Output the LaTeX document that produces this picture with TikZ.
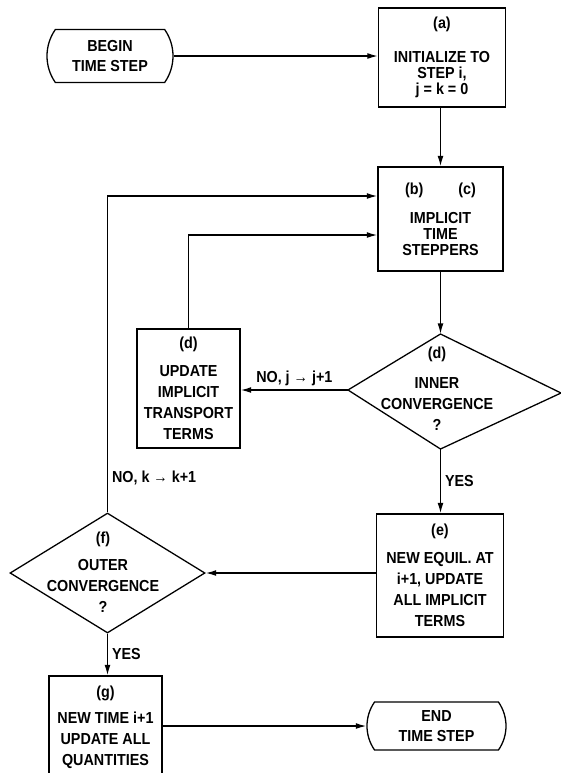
\documentclass[tikz,border=0pt]{standalone}
\usepackage{fontspec}
\setmainfont{Liberation Sans}[FakeStretch=0.9]
\usetikzlibrary{positioning,arrows.meta,shapes.misc,shapes.geometric,calc}
\tikzset{
  box/.style={draw=black, line width=1.1pt, rectangle, align=center, inner sep=0pt},
  terminal/.style={draw=black, line width=1.1pt, rounded rectangle,
    rounded rectangle arc length=70, align=center, inner sep=0pt},
  decision/.style={draw=black, line width=1.1pt, diamond, inner sep=0pt},
  flow/.style={line width=1.1pt, -{Latex[length=9pt,width=5pt]}},
  tight/.style={font=\fontsize{13.6}{13.7}\selectfont\bfseries},
  loose/.style={font=\fontsize{13.6}{17.9}\selectfont\bfseries},
  lbl/.style={font=\fontsize{13.6}{14}\selectfont\bfseries}
}
\begin{document}
\begin{tikzpicture}[x=0.03cm, y=-0.03cm]
    \path[use as bounding box, clip] (0,0) rectangle (561,773);

    \node[terminal, font=\fontsize{13.6}{17}\selectfont\bfseries,
      minimum width=3.78cm, minimum height=1.59cm] (begin) at (110,56) {BEGIN\\TIME STEP};
    \node[box, tight, minimum width=3.81cm, minimum height=2.97cm] (init) at (442,57.5)
      {(a)\\[15pt]INITIALIZE TO\\STEP i,\\j = k = 0};
    \node[box, tight, minimum width=3.75cm, minimum height=3.12cm] (step) at (440.5,219)
      {(b)\hspace{30pt}(c)\\[11pt]IMPLICIT\\TIME\\STEPPERS};

    % inner convergence test (drawn as a kite)
    \coordinate (innerT) at (440.5,334);
    \coordinate (innerL) at (348,390);
    \coordinate (innerB) at (440.5,449);
    \coordinate (innerR) at (561,393);
    \draw[line width=1.1pt] (innerT) -- (innerR) -- (innerB) -- (innerL) -- cycle;
    \node[loose, align=center] (inner) at (437,389) {(d)\\[7.5pt]INNER\\CONVERGENCE\\?};

    \node[box, loose, minimum width=3.09cm, minimum height=3.57cm] (update) at (188.5,388.5)
      {(d)\\[6pt]UPDATE\\IMPLICIT\\TRANSPORT\\TERMS};
    \node[box, loose, minimum width=3.81cm, minimum height=3.69cm] (equil) at (440,575.5)
      {(e)\\[6pt]NEW EQUIL. AT\\i+1, UPDATE\\ALL IMPLICIT\\TERMS};

    \node[decision, minimum width=5.85cm, minimum height=3.6cm] (outer) at (107.5,573) {};
    \node[loose, align=center] (outertxt) at (103,572) {(f)\\[5pt]OUTER\\CONVERGENCE\\?};

    \node[box, loose, minimum width=3.39cm, minimum height=3.06cm] (newtime) at (105.5,727)
      {(g)\\[4.5pt]NEW TIME i+1\\UPDATE ALL\\QUANTITIES};
    \node[terminal, font=\fontsize{13.6}{17}\selectfont\bfseries,
      minimum width=4.17cm, minimum height=1.44cm] (end) at (436.5,726) {END\\TIME STEP};

    \coordinate (stepin1) at ([yshift=0.69cm]step.west);
    \coordinate (stepin2) at ([yshift=-0.48cm]step.west);

    \draw[flow] (begin.east) -- (begin.east -| init.west);
    \draw[flow] (init.south -| step.north) -- (step.north);
    \draw[flow] (step.south) -- (innerT);
    \draw[flow] (innerL) -- node[lbl, above] {NO, j → j+1} (innerL -| update.east);
    \draw[flow] (update.north) |- (stepin2);
    \draw[flow] (innerB) -- node[lbl, right] {YES} (innerB |- equil.north);
    \draw[flow] (equil.west |- outer.east) -- (outer.east);
    \draw[flow] (outer.north) -- node[lbl, right, pos=0.11] {NO, k → k+1} (outer.north |- stepin1) -- (stepin1);
    \draw[flow] (outer.south) -- node[lbl, right] {YES} (outer.south |- newtime.north);
    \draw[flow] (newtime.east |- end.west) -- (end.west);
\end{tikzpicture}
\end{document}
